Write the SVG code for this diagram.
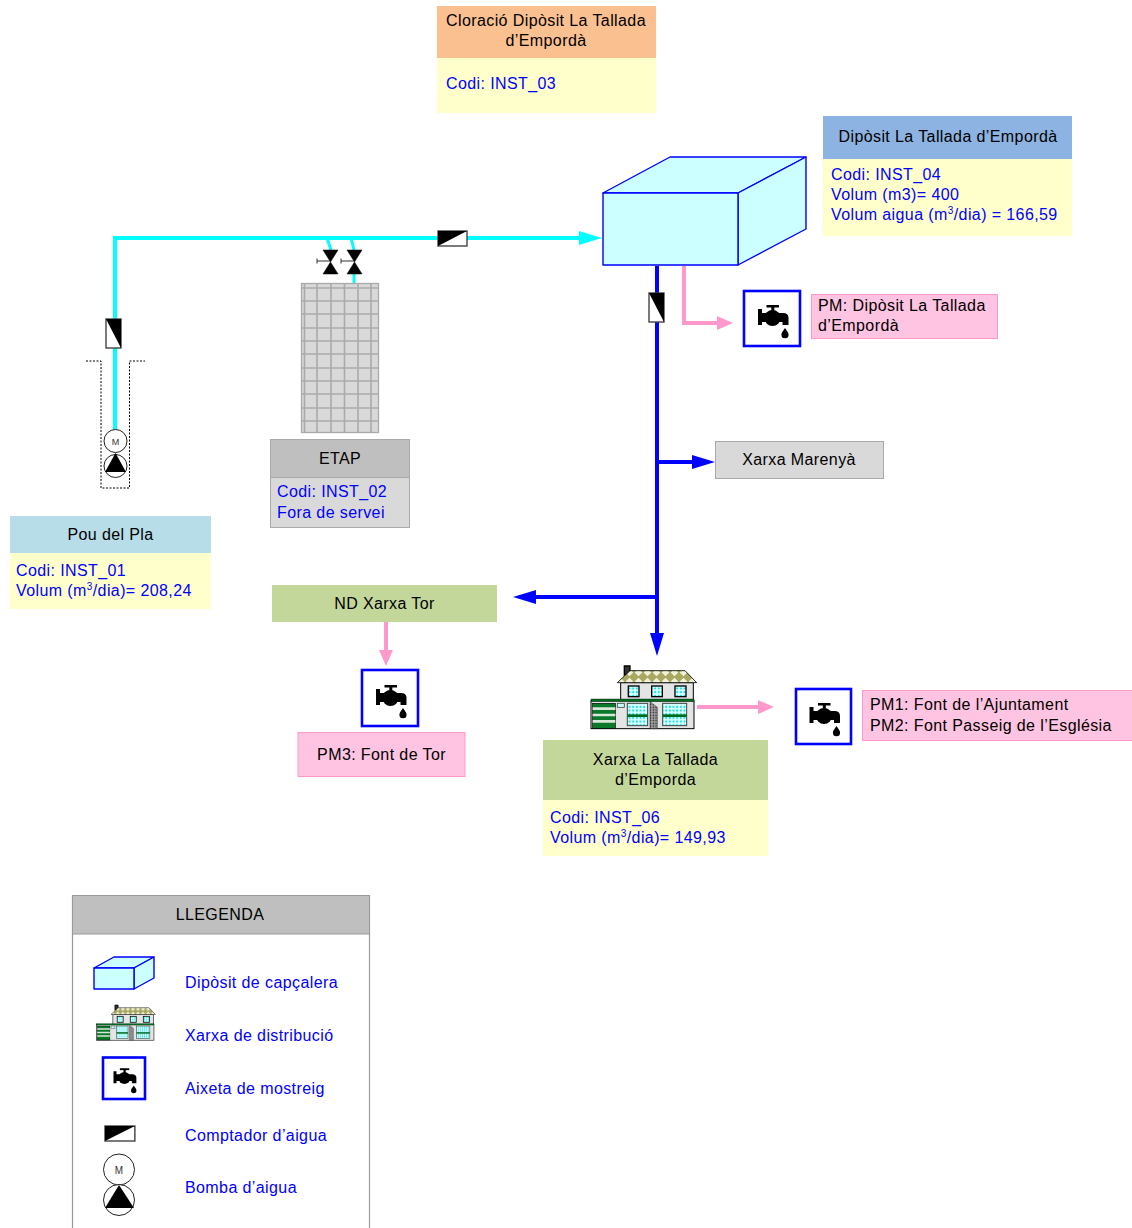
<svg xmlns="http://www.w3.org/2000/svg" width="1132" height="1228" viewBox="0 0 1132 1228">
<style>
text{font-family:"Liberation Sans",Arial,sans-serif;font-size:16px;fill:#000;letter-spacing:.4px}
.b{fill:#00f}
.c{text-anchor:middle}
.y{fill:#ffffcc}
.pm{fill:#ffc4e1;stroke:#ff99cc;stroke-width:1}
.gb{fill:#d9d9d9;stroke:#aaa;stroke-width:1}
.tank{fill:#ccffff;stroke:#00f;stroke-width:1.4;stroke-linejoin:round}
.pipe{fill:none;stroke-width:4}
.cy{stroke:#00ffff}.bl{stroke:#00f}.pk{stroke:#ff99cc}
.ms{fill:#fff;stroke:#00f;stroke-width:2.6}
.grid{stroke:#aaa;stroke-width:1.6;fill:none}
</style>
<defs>
<marker id="ac" markerUnits="userSpaceOnUse" markerWidth="24" markerHeight="16" refX="1" refY="8" orient="auto"><path d="M0 1L23 8L0 15Z" fill="#00ffff"/></marker>
<marker id="ab" markerUnits="userSpaceOnUse" markerWidth="24" markerHeight="16" refX="1" refY="8" orient="auto"><path d="M0 1L23 8L0 15Z" fill="#00f"/></marker>
<marker id="ap" markerUnits="userSpaceOnUse" markerWidth="18" markerHeight="16" refX="1" refY="8" orient="auto"><path d="M0 1L16 8L0 15Z" fill="#ff99cc"/></marker>
<pattern id="roof" width="27" height="27" patternUnits="userSpaceOnUse"><rect width="27" height="27" fill="#a8a860"/><path d="M13.500 2L25 13.500L13.500 25L2 13.500Z" fill="#f2f2dc"/></pattern>
<pattern id="glass" width="11" height="11" patternUnits="userSpaceOnUse"><rect width="11" height="11" fill="#dcffff"/><circle cx="5.500" cy="5.500" r="3.400" fill="#22dddd"/></pattern>
<pattern id="stip" width="8" height="8" patternUnits="userSpaceOnUse"><rect width="8" height="8" fill="#aaa"/><circle cx="4" cy="4" r="2.400" fill="#222"/></pattern>
<g id="tap">
<rect x="14" y="19" width="4" height="16" fill="#000"/>
<rect x="22.500" y="15" width="12.500" height="2.500" fill="#000"/>
<rect x="27.300" y="16" width="3" height="7" fill="#000"/>
<circle cx="28.500" cy="28" r="8" fill="#000"/>
<path d="M17 23H39Q44.500 23 44.500 28V35H38.500V32H17Z" fill="#000"/>
<path d="M41 38c1.500 2.600 3.600 4.500 3.600 6.700a3.600 3.600 0 0 1-7.200 0c0-2.200 2.100-4.100 3.600-6.700z" fill="#000"/>
</g>
<g id="house">
<g transform="scale(.3333)">
<path d="M133 75V48h17v20z" fill="#333" stroke="#000" stroke-width="4"/>
<rect x="122" y="98" width="218" height="55" fill="#e4e4e4" stroke="#000" stroke-width="3"/>
<path d="M112 98L150 62H315L350 98Z" fill="url(#roof)" stroke="#000" stroke-width="2.500"/>
<rect x="145" y="108" width="32" height="32" fill="url(#glass)" stroke="#000" stroke-width="4"/>
<rect x="215" y="108" width="32" height="32" fill="url(#glass)" stroke="#000" stroke-width="4"/>
<rect x="285" y="108" width="33" height="32" fill="url(#glass)" stroke="#000" stroke-width="4"/>
<rect x="33" y="152" width="309" height="84" fill="#e4e4e4" stroke="#000" stroke-width="3"/>
<rect x="33" y="147" width="309" height="8" fill="#006b1f" stroke="#000" stroke-width="1"/>
<rect x="38" y="160" width="68" height="75" fill="#0a7a2a" stroke="#000" stroke-width="2"/>
<path d="M38 176h68M38 195h68M38 214h68" stroke="#d8e8d8" stroke-width="8"/>
<rect x="112" y="160" width="21" height="12" fill="#c8ffff" stroke="#444" stroke-width="2.500"/>
<rect x="142" y="160" width="61" height="67" fill="url(#glass)" stroke="#444" stroke-width="3"/>
<rect x="142" y="193" width="61" height="8" fill="#006b1f"/>
<rect x="248" y="160" width="72" height="67" fill="url(#glass)" stroke="#444" stroke-width="3"/>
<rect x="248" y="193" width="72" height="8" fill="#006b1f"/>
<path d="M210 155L232 172V236H210Z" fill="url(#stip)" stroke="#222" stroke-width="1.500"/>
</g>
</g>
<g id="meter">
<rect x="0" y="0" width="29" height="15" fill="#fff" stroke="#444" stroke-width="1.400"/>
<path d="M0 0H29L0 15Z" fill="#000"/>
</g>
<g id="valve">
<path d="M0 0H15L0 24H15Z" fill="#000" stroke="#000" stroke-width=".5"/>
<path d="M-6 8.500V13.500M-6 11H7" stroke="#333" stroke-width="1" fill="none"/>
</g>
</defs>

<g id="connectors">
<path class="pipe cy" d="M115 430V238H580" marker-end="url(#ac)"/>
<path class="pipe cy" d="M327 238L331 250M351 238L354 250M354 274V284" style="stroke-width:3"/>
<path class="pipe bl" d="M657 266V634" marker-end="url(#ab)"/>
<path class="pipe bl" d="M657 462H693" marker-end="url(#ab)"/>
<path class="pipe bl" d="M656 597H535" marker-end="url(#ab)"/>
<path class="pipe pk" d="M684 266V323H718" marker-end="url(#ap)"/>
<path class="pipe pk" d="M386 622V651" marker-end="url(#ap)"/>
<path class="pipe pk" d="M697 707H759" marker-end="url(#ap)"/>
</g>

<g id="meter-pou"><use href="#meter" transform="translate(121 319) rotate(90)"/></g>
<g id="meter-main"><use href="#meter" transform="translate(438 231)"/></g>
<g id="meter-diposit"><use href="#meter" transform="translate(664 293) rotate(90)"/></g>
<g id="valve-1"><use href="#valve" x="323" y="250"/></g>
<g id="valve-2"><use href="#valve" x="347" y="250"/></g>

<g id="pou-well">
<path d="M86 361H101V488H129.500V361H145" fill="none" stroke="#000" stroke-width="1" stroke-dasharray="2 1.500"/>
<circle cx="115.500" cy="441" r="11.500" fill="#fff" stroke="#222" stroke-width="1"/>
<text x="115.500" y="444.500" class="c" style="font-size:9px;fill:#333;letter-spacing:0">M</text>
<circle cx="115.500" cy="466" r="11.500" fill="#fff" stroke="#222" stroke-width="1"/>
<path d="M115.500 453L126 472H105Z" fill="#000"/>
</g>

<g id="etap-grid">
<rect x="301.500" y="283.500" width="77" height="149" fill="#d9d9d9" stroke="#aaa" stroke-width="1.300"/>
<path class="grid" d="M304.500 283V432M317 283V432M331 283V432M344.500 283V432M358 283V432M371 283V432M301 288H379M301 301H379M301 314H379M301 328H379M301 341H379M301 354H379M301 368H379M301 381H379M301 394H379M301 408H379M301 421H379"/>
</g>

<g id="node-cloracio">
<rect x="437" y="6" width="219" height="52" fill="#fac090"/>
<rect x="437" y="58" width="219" height="55" class="y"/>
<text x="546" y="26" class="c">Cloració Dipòsit La Tallada</text>
<text x="546" y="46" class="c">d’Empordà</text>
<text x="446" y="89" class="b">Codi: INST_03</text>
</g>

<g id="node-tank">
<path class="tank" d="M603 193L670 157H806L738 193Z"/>
<path class="tank" d="M738 193L806 157V229L738 265Z"/>
<rect class="tank" x="603" y="193" width="135" height="72"/>
</g>

<g id="node-diposit">
<rect x="823" y="116" width="249" height="43" fill="#8db3e2"/>
<rect x="823" y="159" width="249" height="77" class="y"/>
<text x="948" y="142" class="c">Dipòsit La Tallada d’Empordà</text>
<text x="831" y="180" class="b">Codi: INST_04</text>
<text x="831" y="200" class="b">Volum (m3)= 400</text>
<text x="831" y="220" class="b">Volum aigua (m<tspan dy="-6" style="font-size:10px" class="b">3</tspan><tspan dy="6" class="b">/dia) = 166,59</tspan></text>
</g>

<g id="tap-diposit">
<rect class="ms" x="744" y="291" width="56" height="55"/>
<use href="#tap" x="744" y="290"/>
</g>
<g id="node-pm-diposit">
<rect class="pm" x="811.500" y="294.500" width="186" height="44"/>
<text x="818" y="311">PM: Dipòsit La Tallada</text>
<text x="818" y="331">d’Empordà</text>
</g>

<g id="node-etap">
<rect class="gb" x="270.500" y="439.500" width="139" height="88"/>
<rect x="270.500" y="439.500" width="139" height="38" fill="#bfbfbf" stroke="#aaa"/>
<text x="340" y="464" class="c">ETAP</text>
<text x="277" y="497" class="b">Codi: INST_02</text>
<text x="277" y="518" class="b">Fora de servei</text>
</g>

<g id="node-marenya">
<rect class="gb" x="715.500" y="441.500" width="168" height="37"/>
<text x="799" y="465" class="c">Xarxa Marenyà</text>
</g>

<g id="node-pou">
<rect x="10" y="516" width="201" height="37" fill="#b7dde8"/>
<rect x="10" y="553" width="201" height="56" class="y"/>
<text x="110.500" y="540" class="c">Pou del Pla</text>
<text x="16" y="576" class="b">Codi: INST_01</text>
<text x="16" y="596" class="b">Volum (m<tspan dy="-6" style="font-size:10px" class="b">3</tspan><tspan dy="6" class="b">/dia)= 208,24</tspan></text>
</g>

<g id="node-tor">
<rect x="272" y="585" width="225" height="37" fill="#c4d79b"/>
<text x="384.500" y="609" class="c">ND Xarxa Tor</text>
</g>
<g id="tap-tor">
<rect class="ms" x="362" y="670" width="56" height="56"/>
<use href="#tap" x="362" y="670"/>
</g>
<g id="node-pm3">
<rect class="pm" x="298" y="732.500" width="167" height="44"/>
<text x="381.500" y="760" class="c">PM3: Font de Tor</text>
</g>

<g id="node-house"><use href="#house" x="580" y="650"/></g>
<g id="tap-tallada">
<rect class="ms" x="796" y="689" width="55" height="55"/>
<use href="#tap" x="795.500" y="688"/>
</g>
<g id="node-pm12">
<rect class="pm" x="862.500" y="690.500" width="270" height="50"/>
<text x="870" y="710">PM1: Font de l’Ajuntament</text>
<text x="870" y="731">PM2: Font Passeig de l’Església</text>
</g>

<g id="node-tallada">
<rect x="543" y="740" width="225" height="60" fill="#c4d79b"/>
<rect x="543" y="800" width="225" height="56" class="y"/>
<text x="655.500" y="765" class="c">Xarxa La Tallada</text>
<text x="655.500" y="785" class="c">d’Emporda</text>
<text x="550" y="823" class="b">Codi: INST_06</text>
<text x="550" y="843" class="b">Volum (m<tspan dy="-6" style="font-size:10px" class="b">3</tspan><tspan dy="6" class="b">/dia)= 149,93</tspan></text>
</g>

<g id="legend">
<path d="M72.500 1228V895.500H369.500V1228" fill="#fff" stroke="#999" stroke-width="1.200"/>
<rect x="72.500" y="895.500" width="297" height="38.500" fill="#bfbfbf" stroke="#999"/>
<text x="220" y="920" class="c">LLEGENDA</text>
<path class="tank" d="M94 968L114 957H154L134 968Z"/>
<path class="tank" d="M134 968L154 957V978L134 989Z"/>
<rect class="tank" x="94" y="968" width="40" height="21"/>
<use href="#house" transform="translate(96 1004) scale(.56) translate(-10.500 -14)"/>
<rect class="ms" x="103" y="1057.500" width="42" height="41.500"/>
<use href="#tap" transform="translate(103 1057) scale(.75)"/>
<use href="#meter" transform="translate(105 1126) scale(1.030 1)"/>
<circle cx="119" cy="1169.500" r="15.500" fill="#fff" stroke="#222" stroke-width="1"/>
<text x="119" y="1174" class="c" style="font-size:10px;fill:#333;letter-spacing:0">M</text>
<circle cx="119" cy="1200" r="15.500" fill="#fff" stroke="#222" stroke-width="1"/>
<path d="M119 1185L134 1208H105Z" fill="#000"/>
<text x="185" y="988" class="b">Dipòsit de capçalera</text>
<text x="185" y="1041" class="b">Xarxa de distribució</text>
<text x="185" y="1094" class="b">Aixeta de mostreig</text>
<text x="185" y="1141" class="b">Comptador d’aigua</text>
<text x="185" y="1193" class="b">Bomba d’aigua</text>
</g>
</svg>
